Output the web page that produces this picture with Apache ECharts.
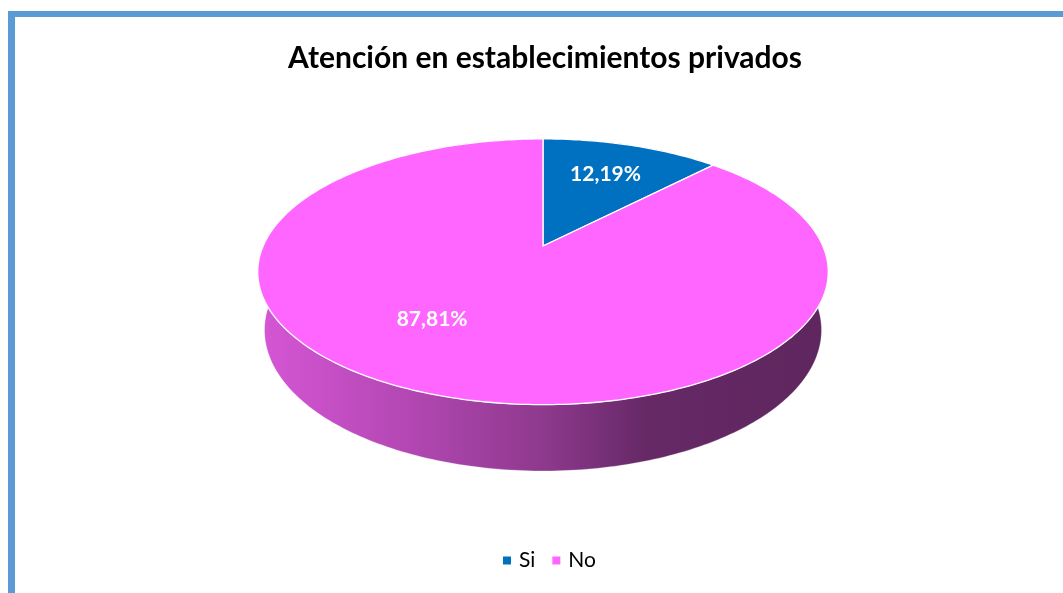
<!DOCTYPE html>
<html><head><meta charset="utf-8">
<script src="https://cdn.jsdelivr.net/npm/echarts/dist/echarts.min.js"></script>
<style>html,body{margin:0;padding:0;background:#fff}#c{width:1063px;height:593px}</style>
</head><body><div id="c"></div>
<script>
// ---- data ----
const TITLE = 'Atención en establecimientos privados';
const categories = ['Si', 'No'];
const values = [12.19, 87.81];
const colors = ['#0070C0', '#FF66FF'];

// ---- 3D pie projection (perspective view of a tilted disc) ----
const CX = 543, CY = 246, F = 1284, DIST = 4.588, SIN_A = 0.457, COS_A = 0.8895, THICK = 0.236;
function proj(u, v, h) {
  const yc = v * SIN_A - h * COS_A;
  const z = DIST + v * COS_A + h * SIN_A;
  return [CX + F * u / z, CY - F * yc / z];
}
// label placement (angle shift in degrees, radial fraction)
const LABEL_SHIFT = [0, 12.5];
const LABEL_R = [0.67, 0.63];

function shade(hex, k) {
  const n = parseInt(hex.slice(1), 16);
  const r = Math.round(((n >> 16) & 255) * k), g = Math.round(((n >> 8) & 255) * k), b = Math.round((n & 255) * k);
  return 'rgb(' + r + ',' + g + ',' + b + ')';
}
const total = values.reduce((a, b) => a + b, 0);
function fmt(v) { return (v / total * 100).toFixed(2).replace('.', ',') + '%'; }

function makeRender(i) {
  return function (params, api) {
    let start = 0;
    for (let k = 0; k < i; k++) start += values[k];
    const val = api.value(0);
    const a1 = start / total * 360, a2 = (start + val) / total * 360;
    const color = api.visual('color');
    const top = [proj(0, 0, 0)], wt = [], wb = [];
    const n = Math.max(4, Math.ceil(a2 - a1));
    for (let j = 0; j <= n; j++) {
      const t = (a1 + (a2 - a1) * j / n) * Math.PI / 180;
      const u = Math.sin(t), v = Math.cos(t);
      const p = proj(u, v, 0);
      top.push(p); wt.push(p); wb.push(proj(u, v, THICK));
    }
    const wall = wt.concat(wb.reverse());
    const x0 = CX - 286, x1 = CX + 286;
    const grad = {
      type: 'linear', x: x0, y: 0, x2: x1, y2: 0, global: true,
      colorStops: [
        { offset: 0, color: shade(color, 0.84) },
        { offset: 0.25, color: shade(color, 0.71) },
        { offset: 0.5, color: shade(color, 0.555) },
        { offset: 0.68, color: shade(color, 0.40) },
        { offset: 1, color: shade(color, 0.37) }
      ]
    };
    const mid = ((a1 + a2) / 2 + LABEL_SHIFT[i]) * Math.PI / 180;
    const lp = proj(LABEL_R[i] * Math.sin(mid), LABEL_R[i] * Math.cos(mid), 0);
    return {
      type: 'group',
      children: [
        { type: 'polygon', z2: 1, shape: { points: wall }, style: { fill: grad, stroke: 'rgba(255,255,255,0.35)', lineWidth: 0.8 } },
        { type: 'polygon', z2: 10, shape: { points: top }, style: { fill: color, stroke: '#ffffff', lineWidth: 1.3 } },
        { type: 'text', z2: 20, x: lp[0], y: lp[1] - 1, style: { text: fmt(val), fill: '#ffffff', font: 'bold 21px Lato', align: 'center', verticalAlign: 'middle' } }
      ]
    };
  };
}

const chart = echarts.init(document.getElementById('c'), null, { renderer: 'canvas' });
chart.setOption({
  backgroundColor: '#ffffff',
  animation: false,
  title: {
    text: TITLE, left: 283, top: 38, padding: 5,
    textStyle: { fontFamily: 'Lato', fontWeight: 'bold', fontSize: 30, color: '#000000' }
  },
  legend: {
    data: categories, left: 498, top: 545, icon: 'rect', itemWidth: 8, itemHeight: 8, itemGap: 17,
    selectedMode: false,
    textStyle: { fontFamily: 'Lato', fontSize: 21, color: '#000000', padding: [0, 0, 0, 3] }
  },
  graphic: [
    { type: 'rect', shape: { x: 8, y: 11, width: 1070, height: 6 }, style: { fill: '#5B9BD5' } },
    { type: 'rect', shape: { x: 8, y: 11, width: 7, height: 600 }, style: { fill: '#5B9BD5' } }
  ],
  series: categories.map((name, i) => ({
    type: 'custom', name: name, coordinateSystem: 'none', silent: true,
    itemStyle: { color: colors[i] },
    renderItem: makeRender(i),
    data: [[values[i]]]
  }))
});
</script></body></html>
